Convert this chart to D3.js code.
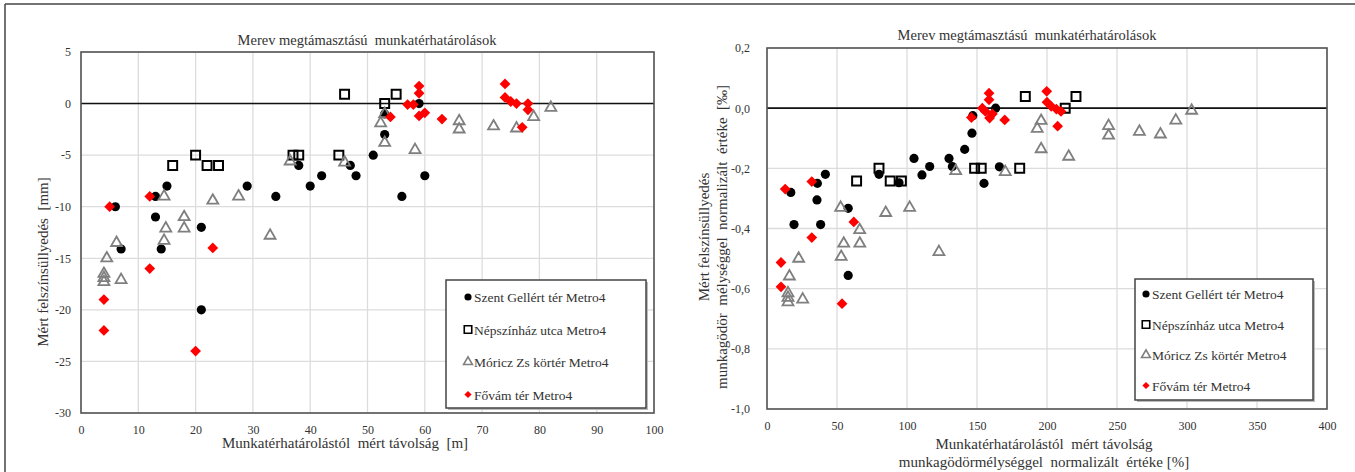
<!DOCTYPE html>
<html>
<head>
<meta charset="utf-8">
<script src="https://cdn.jsdelivr.net/npm/d3@7"></script>
<style>
  body{margin:0;background:#fff;}
  svg text{font-family:'Times New Roman','Liberation Serif','DejaVu Serif','Noto Serif',Times,serif;fill:#333;}
</style>
</head>
<body>
<svg id="chart" width="1355" height="472"></svg>
<script>
//-----------------------------------------------------------------------------
// DATA
var seriesNames = ["Szent Gellért tér Metro4","Népszínház utca Metro4","Móricz Zs körtér Metro4","Fővám tér Metro4"];
var chartTitle  = "Merev megtámasztású  munkatérhatárolások";

// left chart: distance [m] vs settlement [mm]
var leftXTicks = [0,10,20,30,40,50,60,70,80,90,100];
var leftYTicks = [5,0,-5,-10,-15,-20,-25,-30];
var gellertL = [[6,-10],[7,-14.1],[13,-9],[13,-11],[14,-14.1],[15,-8],[21,-12],[21,-20],[29,-8],[34,-9],[38,-6],[40,-8],[42,-7],[47,-6],[48,-7],[51,-5],[53,-3],[53,-1],[56,-9],[59,0],[60,-7]];
var nepszL   = [[16,-6],[20,-5],[22,-6],[24,-6],[37,-5],[38,-5],[45,-5],[46,0.9],[53,0],[55,0.9]];
var moriczL  = [[4.5,-15],[4,-16.5],[4,-16.9],[4,-17.3],[6.2,-13.5],[7,-17.1],[14.5,-9],[14.8,-12.1],[14.5,-13.3],[18,-11],[18,-12.1],[23,-9.4],[27.5,-9],[33,-12.8],[36.5,-5.6],[46,-5.7],[52.3,-1.9],[53,-1],[53,-3.8],[58.3,-4.5],[66,-1.7],[66,-2.5],[72,-2.2],[76,-2.4],[79,-1.3],[82,-0.4]];
var fovamL   = [[5,-10],[12,-9],[12,-16],[4,-19],[4,-22],[20,-24],[23,-14],[54,-1.3],[57,-0.1],[58,-0.1],[59,1.7],[59,1],[59,-1.2],[60,-0.9],[63,-1.5],[74,1.9],[74,0.6],[75,0.2],[76,0],[78,0],[78,-0.6],[77,-2.3]];

// right chart: normalized distance [%] vs normalized settlement [‰]
var rightXTicks = [0,50,100,150,200,250,300,350,400];
var rightYTicks = [0.2,0,-0.2,-0.4,-0.6,-0.8,-1.0];
var gellertR = [[17,-0.28],[36,-0.25],[41.7,-0.22],[35.7,-0.305],[19.3,-0.387],[38.3,-0.387],[58,-0.333],[58,-0.556],[80,-0.22],[94.3,-0.248],[105,-0.167],[110.7,-0.222],[116.2,-0.194],[130,-0.167],[132.4,-0.194],[141.2,-0.137],[146.4,-0.083],[147,-0.025],[163.3,0],[166,-0.195],[155,-0.25]];
var nepszR   = [[64,-0.242],[80,-0.2],[88,-0.242],[96,-0.242],[148.3,-0.2],[153,-0.2],[180.5,-0.2],[184.5,0.039],[213,0],[220.7,0.039]];
var moriczR  = [[52.6,-0.331],[66.2,-0.405],[84.8,-0.348],[101.9,-0.331],[134.8,-0.209],[170.2,-0.212],[195.8,-0.042],[193,-0.068],[195.8,-0.136],[215.5,-0.161],[244,-0.059],[244,-0.091],[266,-0.078],[281,-0.087],[292,-0.041],[303.3,-0.008],[22.6,-0.5],[54.8,-0.45],[66.3,-0.45],[53,-0.494],[16,-0.559],[15,-0.615],[15,-0.63],[15,-0.645],[25.5,-0.636],[122.8,-0.478]];
var fovamR   = [[10,-0.513],[10,-0.594],[13,-0.269],[32,-0.244],[32,-0.43],[53.6,-0.65],[62,-0.378],[146,-0.031],[153.8,0],[158.6,0.05],[158.6,0.028],[156,-0.011],[159,-0.033],[161,-0.019],[169.8,-0.039],[199.8,0.056],[200,0.02],[203,0.006],[206.7,-0.003],[210,-0.011],[207.6,-0.06]];

//-----------------------------------------------------------------------------
// STYLES
var FONT = "'Times New Roman','Liberation Serif','DejaVu Serif','Noto Serif',Times,serif";
var markers = [
  {type:d3.symbolCircle, size:66, fill:"#000",    stroke:"none",    sw:0,   rot:0,  lsize:40},
  {type:d3.symbolSquare, size:80, fill:"none",    stroke:"#000",    sw:2,   rot:0,  lsize:56},
  {type:d3.symbolTriangle, size:52, fill:"none",  stroke:"#7f7f7f", sw:1.8, rot:0,  lsize:34},
  {type:d3.symbolSquare, size:58, fill:"#ff0000", stroke:"none",    sw:0,   rot:45, lsize:26}
];

var svg = d3.select("#chart");

// outer frame (top and left only)
svg.append("line").attr("x1",5).attr("x2",1355).attr("y1",4).attr("y2",4)
   .attr("stroke","#444").attr("stroke-width",1.5);
svg.append("line").attr("x1",5).attr("x2",5).attr("y1",4).attr("y2",472)
   .attr("stroke","#444").attr("stroke-width",1.5);

//-----------------------------------------------------------------------------
function drawChart(cfg){
  var g = svg.append("g");
  var x = d3.scaleLinear().domain(cfg.xDomain).range([cfg.left, cfg.right]);
  var y = d3.scaleLinear().domain(cfg.yDomain).range([cfg.bottom, cfg.top]);

  // grid
  g.selectAll(".vg").data(cfg.xTicks).enter().append("line")
    .attr("x1",function(d){return x(d);}).attr("x2",function(d){return x(d);})
    .attr("y1",cfg.top).attr("y2",cfg.bottom)
    .attr("stroke","#dcdcdc").attr("stroke-width",1.3);
  g.selectAll(".hg").data(cfg.yTicks).enter().append("line")
    .attr("y1",function(d){return y(d);}).attr("y2",function(d){return y(d);})
    .attr("x1",cfg.left).attr("x2",cfg.right)
    .attr("stroke","#dcdcdc").attr("stroke-width",1.3);

  // axes (labels only, ticks hidden)
  var xAxis = d3.axisBottom(x).tickValues(cfg.xTicks).tickSize(0).tickPadding(12).tickFormat(cfg.xFormat);
  g.append("g").attr("transform","translate(0,"+cfg.bottom+")").call(xAxis)
    .attr("font-family", FONT).attr("font-size", 12)
    .call(function(a){a.select(".domain").remove();})
    .selectAll("text").attr("fill","#333");
  var yAxis = d3.axisLeft(y).tickValues(cfg.yTicks).tickSize(0).tickPadding(cfg.yPad).tickFormat(cfg.yFormat);
  g.append("g").attr("transform","translate("+cfg.left+",0)").call(yAxis)
    .attr("font-family", FONT).attr("font-size", 12)
    .call(function(a){a.select(".domain").remove();})
    .selectAll("text").attr("fill","#333");

  // zero line
  g.append("line").attr("x1",cfg.left).attr("x2",cfg.right).attr("y1",y(0)).attr("y2",y(0))
    .attr("stroke","#111").attr("stroke-width",1.6);

  // plot border
  g.append("rect").attr("x",cfg.left).attr("y",cfg.top)
    .attr("width",cfg.right-cfg.left).attr("height",cfg.bottom-cfg.top)
    .attr("fill","none").attr("stroke","#555").attr("stroke-width",1.6);

  // points
  cfg.series.forEach(function(data, i){
    var m = markers[i];
    g.append("g").selectAll("path").data(data).enter().append("path")
      .attr("d", d3.symbol().type(m.type).size(m.size))
      .attr("transform", function(d){ return "translate("+x(d[0])+","+y(d[1])+") rotate("+m.rot+")"; })
      .attr("fill", m.fill).attr("stroke", m.stroke).attr("stroke-width", m.sw);
  });

  // title
  g.append("text").attr("x",cfg.titleX).attr("y",cfg.titleY).attr("text-anchor","middle")
    .attr("font-family", FONT).style("font-size","14.5px").style("white-space","pre").text(chartTitle);

  // x axis title
  cfg.xTitle.forEach(function(t, i){
    g.append("text").attr("x",cfg.xTitleX).attr("y",cfg.xTitleY + i*18).attr("text-anchor","middle")
      .attr("font-family", FONT).style("font-size","15px").style("white-space","pre").text(t);
  });
  // y axis title
  cfg.yTitle.forEach(function(t, i){
    g.append("text").attr("transform","translate("+(cfg.yTitleX + i*18)+","+cfg.yTitleY+") rotate(-90)")
      .attr("text-anchor","middle").attr("font-family", FONT)
      .style("font-size","15px").style("white-space","pre").text(t);
  });

  // legend
  var L = cfg.legend;
  g.append("rect").attr("x",L.x+2).attr("y",L.y+2).attr("width",L.w).attr("height",L.h)
    .attr("fill","#bbb");
  g.append("rect").attr("x",L.x).attr("y",L.y).attr("width",L.w).attr("height",L.h)
    .attr("fill","#fff").attr("stroke","#444").attr("stroke-width",1.5);
  seriesNames.forEach(function(name, i){
    var m = markers[i];
    var ly = L.y + L.first + i*L.step;
    g.append("path").attr("d", d3.symbol().type(m.type).size(m.lsize))
      .attr("transform","translate("+(L.x+L.mx)+","+ly+") rotate("+m.rot+")")
      .attr("fill", m.fill).attr("stroke", m.stroke).attr("stroke-width", m.sw ? 1.6 : 0);
    g.append("text").attr("x", L.x+L.mx+6).attr("y", ly+5).attr("font-family", FONT)
      .style("font-size","13.5px").attr("fill","#222").text(name);
  });
}

//-----------------------------------------------------------------------------
var commaFmt = function(d){ return d3.format(".1f")(d).replace(".",",").replace("\u2212","-"); };

drawChart({
  left:81, right:654, top:52, bottom:413,
  xDomain:[0,100], yDomain:[-30,5],
  xTicks:leftXTicks, yTicks:leftYTicks,
  xFormat:d3.format("d"), yFormat:function(d){return String(d);}, yPad:10,
  series:[gellertL, nepszL, moriczL, fovamL],
  titleX:367, titleY:45,
  xTitle:["Munkatérhatárolástól  mért távolság  [m]"], xTitleX:345, xTitleY:448,
  yTitle:["Mért felszínsüllyedés  [mm]"], yTitleX:48, yTitleY:262,
  legend:{x:446, y:280, w:200, h:128, first:17, step:32.5, mx:22}
});

drawChart({
  left:767, right:1327, top:48, bottom:409,
  xDomain:[0,400], yDomain:[-1.0,0.2],
  xTicks:rightXTicks, yTicks:rightYTicks,
  xFormat:d3.format("d"), yFormat:commaFmt, yPad:17,
  series:[gellertR, nepszR, moriczR, fovamR],
  titleX:1027, titleY:40,
  xTitle:["Munkatérhatárolástól  mért távolság", "munkagödörmélységgel  normalizált  értéke [%]"], xTitleX:1044, xTitleY:449,
  yTitle:["Mért felszínsüllyedés", "munkagödör  mélységgel  normalizált  értéke  [‰]"], yTitleX:709, yTitleY:237,
  legend:{x:1135, y:279, w:178, h:121, first:15, step:30.5, mx:11}
});
</script>
</body>
</html>
